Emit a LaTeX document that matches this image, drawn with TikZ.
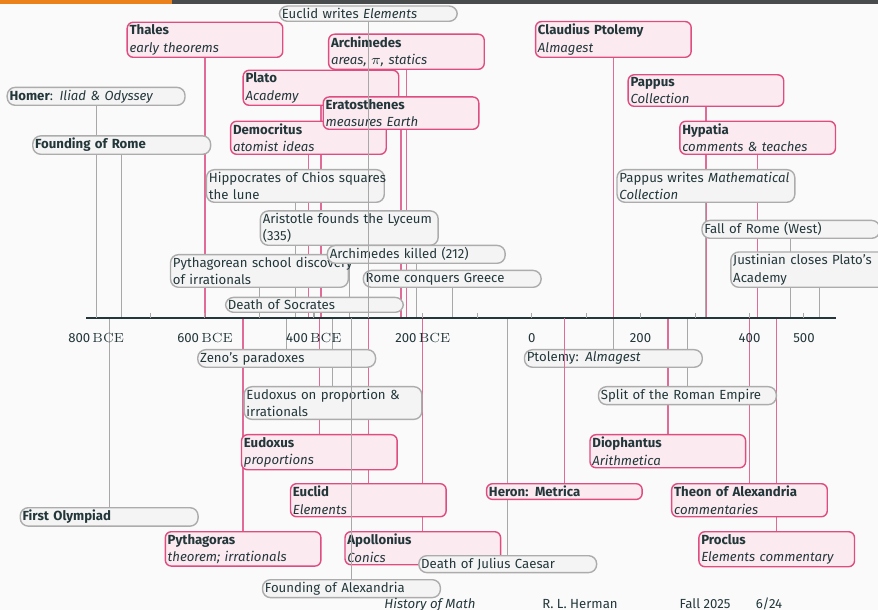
\documentclass[tikz,border=0pt]{standalone}
\usepackage{fontspec}
\setsansfont{Fira Sans}
\usepackage{tikz}
\usetikzlibrary{backgrounds}

\definecolor{mdark}{HTML}{23373B}
\definecolor{morange}{HTML}{EB811B}
\definecolor{mbar}{RGB}{72,76,77}
\definecolor{slidebg}{HTML}{FAFAFA}
\definecolor{pinkdraw}{RGB}{222,76,128}
\definecolor{pinkfill}{RGB}{251,234,240}
\definecolor{pinkline}{RGB}{226,106,150}
\definecolor{greydraw}{RGB}{172,172,172}
\definecolor{greyfill}{RGB}{244,244,244}
\definecolor{greyline}{RGB}{168,168,168}

\tikzset{
	txt/.style={font=\sffamily\fontsize{6.6}{8.7}\selectfont, text=mdark},
	event/.style={txt, draw=greydraw, fill=greyfill, line width=0.7pt, rounded corners=4pt,
		inner xsep=1.2pt, inner ysep=1.2pt, text width=86.5pt, align=left},
	person/.style={event, draw=pinkdraw, fill=pinkfill, rounded corners=3pt, text width=75.4pt},
	eedge/.style={greyline, line width=0.5pt},
	pedge/.style={pinkline, line width=0.7pt},
}

\begin{document}
\begin{tikzpicture}[x=0.27225pt, y=0.5pt]
		\useasboundingbox (-976.5,-292) rectangle (636,318);

		\coordinate (axis) at (0,0);
		\draw[mdark, line width=1pt] (-818,0) -- (559,0);
		\foreach \t in {-800,-700,...,500}
			\draw[eedge] (\t,0) -- (\t,5);
		\foreach \t/\n in {-800/800,-600/600,-400/400,-200/200}
			\node[txt, anchor=base] (bce\n) at (\t,-25) {\n\,$\mathrm{BCE}$};
		\foreach \t in {0,200,400,500}
			\node[txt, anchor=base] (ce\t) at (\t,-25) {\t};

		\node[person, anchor=south] (thales) at (-600,260) {\textbf{Thales}\\\textit{early theorems}};
		\node[person, anchor=south] (archimedes) at (-230,248) {\textbf{Archimedes}\\\textit{areas, $\pi$, statics}};
		\node[person, anchor=south] (ptolemy) at (150,260) {\textbf{Claudius Ptolemy}\\\textit{Almagest}};
		\node[person, anchor=south] (plato) at (-387,212) {\textbf{Plato}\\\textit{Academy}};
		\node[person, anchor=south] (pappus) at (320,211) {\textbf{Pappus}\\\textit{Collection}};
		\node[person, anchor=south] (democritus) at (-410,163) {\textbf{Democritus}\\\textit{atomist ideas}};
		\node[person, anchor=south] (eratosthenes) at (-240,188) {\textbf{Eratosthenes}\\\textit{measures Earth}};
		\node[person, anchor=south] (hypatia) at (415,163) {\textbf{Hypatia}\\\textit{comments \& teaches}};

		\node[event, anchor=south] (euclidwrites) at (-300,296) {Euclid writes \textit{Elements}};
		\node[event, anchor=south] (homer) at (-800,212) {\textbf{Homer}: \textit{Iliad \& Odyssey}};
		\node[event, anchor=south] (rome) at (-753,163) {\textbf{Founding of Rome}};
		\node[event, anchor=south] (hippocrates) at (-434,115) {\mbox{Hippocrates of Chios squares}\\the lune};
		\node[event, anchor=south] (pappuswrites) at (320,115) {\mbox{Pappus writes \textit{Mathematical}}\\\textit{Collection}};
		\node[event, anchor=south] (lyceum) at (-335,72) {\mbox{Aristotle founds the Lyceum}\\(335)};
		\node[event, anchor=south] (fallrome) at (476,79) {Fall of Rome (West)};
		\node[event, anchor=south] (pythschool) at (-500,30) {\mbox{Pythagorean school discovery}\\of irrationals};
		\node[event, anchor=south] (archkilled) at (-212,54) {Archimedes killed (212)};
		\node[event, anchor=south] (greece) at (-146,30) {Rome conquers Greece};
		\node[event, anchor=south] (justinian) at (529,30) {\mbox{Justinian closes Plato's}\\Academy};
		\node[event, anchor=south] (socrates) at (-399,5) {Death of Socrates};

		\node[event, anchor=north] (zeno) at (-450,-31) {Zeno's paradoxes};
		\node[event, anchor=north] (almagest) at (150,-31) {Ptolemy: \textit{Almagest}};
		\node[event, anchor=north] (eudoxprop) at (-365,-68) {\mbox{Eudoxus on proportion \&}\\irrationals};
		\node[event, anchor=north] (split) at (286,-68) {Split of the Roman Empire};
		\node[event, anchor=north] (olympiad) at (-776,-189) {\textbf{First Olympiad}};
		\node[event, anchor=north] (alexandria) at (-331,-261) {Founding of Alexandria};

		\node[person, anchor=north] (eudoxus) at (-390,-116) {\textbf{Eudoxus}\\\textit{proportions}};
		\node[person, anchor=north] (diophantus) at (250,-116) {\textbf{Diophantus}\\\textit{Arithmetica}};
		\node[person, anchor=north] (euclid) at (-300,-165) {\textbf{Euclid}\\\textit{Elements}};
		\node[person, anchor=north] (heron) at (60,-165) {\textbf{Heron: Metrica}};
		\node[person, anchor=north] (theon) at (400,-165) {\textbf{Theon of Alexandria}\\\textit{commentaries}};
		\node[person, anchor=north] (pythagoras) at (-530,-213) {\textbf{Pythagoras}\\\textit{theorem; irrationals}};
		\node[person, anchor=north] (apollonius) at (-200,-213) {\textbf{Apollonius}\\\textit{Conics}};
		\node[person, anchor=north] (proclus) at (450,-213) {\textbf{Proclus}\\\textit{Elements commentary}};
		\node[event, anchor=north] (caesar) at (-44,-237) {Death of Julius Caesar};

		\begin{scope}[on background layer]
			\fill[slidebg] (-976.5,-292) rectangle (636,318);
			\foreach \p in {thales,archimedes,ptolemy,plato,pappus,democritus,eratosthenes,hypatia,
				eudoxus,diophantus,euclid,theon,pythagoras,apollonius,proclus}
				\draw[pedge] (\p) -- (\p |- axis);
			\foreach \e in {homer,rome,hippocrates,pappuswrites,lyceum,fallrome,pythschool,archkilled,
				greece,justinian,socrates,zeno,almagest,eudoxprop,split,olympiad,caesar}
				\draw[eedge] (\e) -- (\e |- axis);
		\end{scope}

		\draw[eedge] (euclidwrites) -- (euclidwrites |- axis);
		\draw[eedge] (alexandria) -- (alexandria |- axis);
		\draw[pedge] (heron) -- (heron |- axis);

		\fill[morange] (-976.5,314) rectangle (-660.6,318);
		\fill[mbar] (-660.6,314) rectangle (636,318);

		\node[txt, anchor=base] (ftitle) at (-186.8,-290) {\textit{History of Math}};
		\node[txt, anchor=base] (fauthor) at (88.7,-290) {R. L. Herman};
		\node[txt, anchor=base] (fterm) at (318.5,-290) {Fall 2025};
		\node[txt, anchor=base] (fpage) at (436,-290) {6/24};

	\end{tikzpicture}
\end{document}
